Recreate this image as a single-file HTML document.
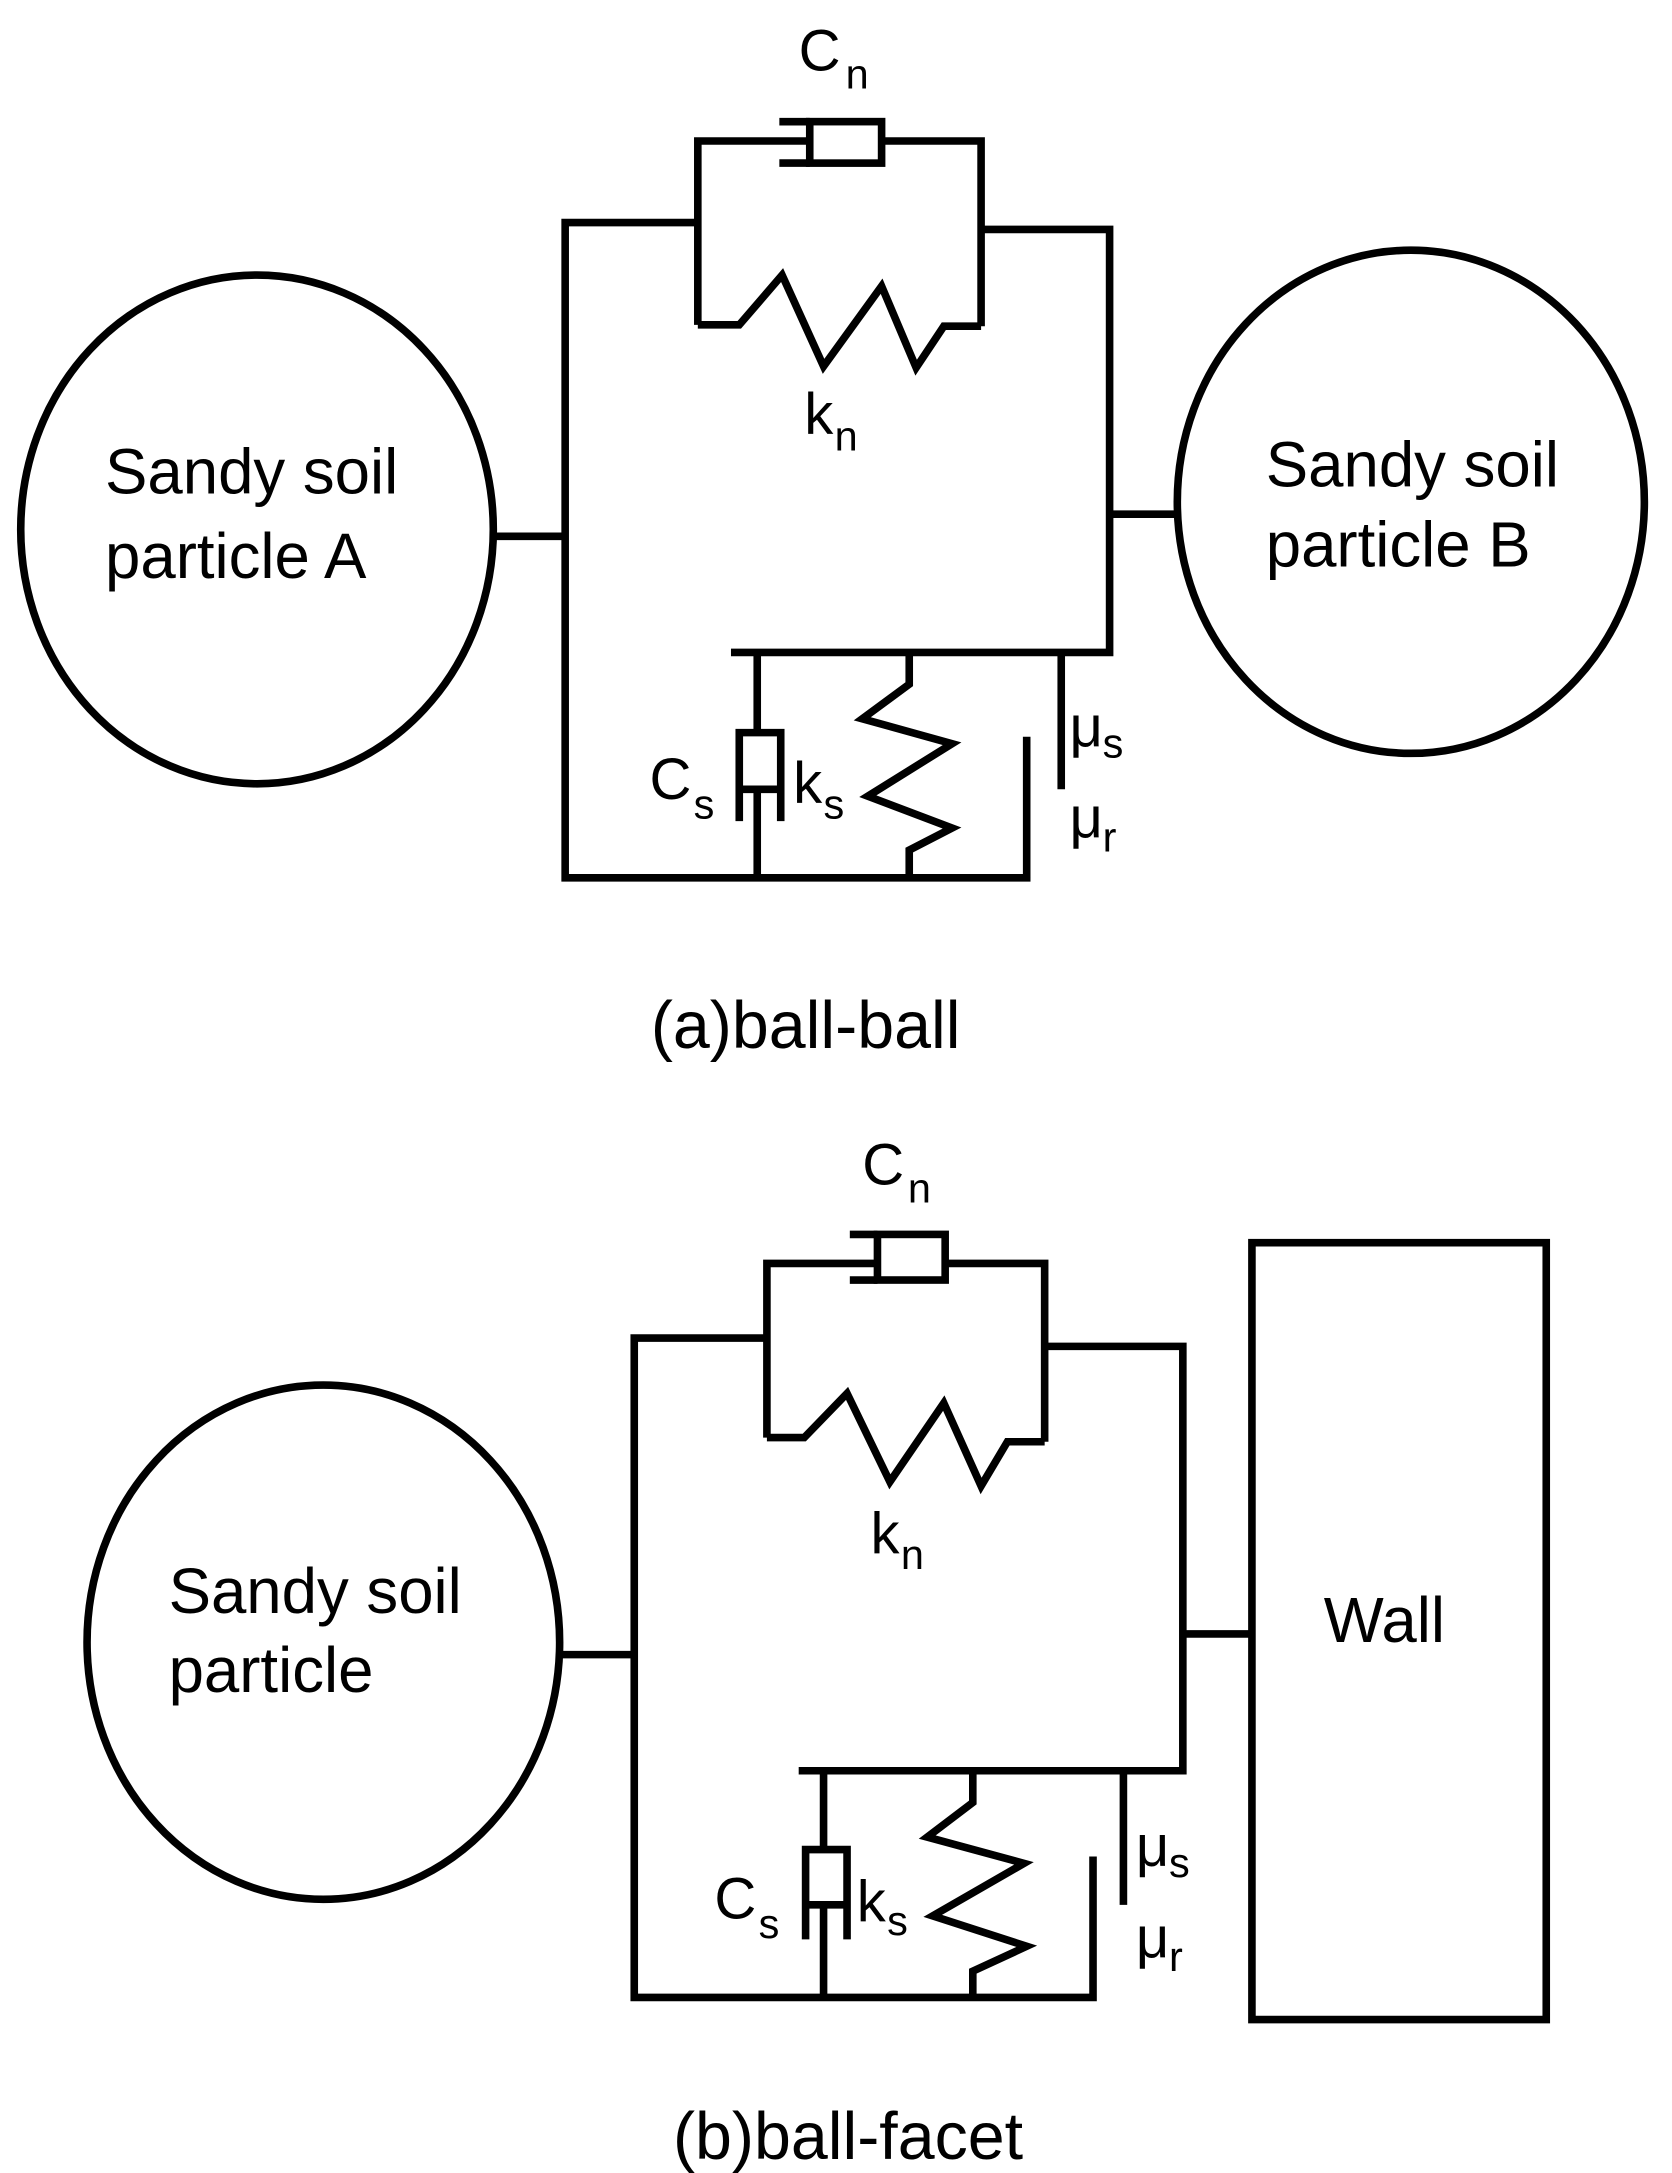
<!DOCTYPE html>
<html><head><meta charset="utf-8"><style>
html,body{margin:0;padding:0;background:#fff;}
svg{display:block;}
text{font-family:"Liberation Sans",Arial,sans-serif;fill:#000;}
</style></head><body>
<svg width="1672" height="2173" viewBox="0 0 1210 1572" preserveAspectRatio="none" xmlns="http://www.w3.org/2000/svg">
<rect width="1210" height="1572" fill="#fff"/>
<g fill="none" stroke="#000" stroke-width="5.5" stroke-linejoin="miter">
<!-- top diagram -->
<ellipse cx="186" cy="383" rx="171" ry="184"/>
<ellipse cx="1021" cy="363" rx="169" ry="182"/>
<line x1="357" y1="388" x2="409" y2="388"/>
<line x1="803" y1="372" x2="852" y2="372"/>
<polyline points="505,161 409,161 409,635 743,635 743,533"/>
<polyline points="505,235 505,102 586,102"/>
<rect x="586" y="88" width="52" height="30"/>
<line x1="564" y1="88" x2="586" y2="88"/>
<line x1="564" y1="118" x2="586" y2="118"/>
<polyline points="638,102 710,102 710,236"/>
<polyline points="505,235 535,235 566,199 596,265 638,207 663,266 683,236 710,236"/>
<polyline points="710,166 803,166 803,472 529,472"/>
<line x1="548" y1="472" x2="548" y2="530"/>
<polyline points="535,594 535,530 565,530 565,594"/>
<line x1="535" y1="571" x2="565" y2="571"/>
<line x1="548" y1="571" x2="548" y2="635"/>
<polyline points="658,472 658,495 624,520 689,538 628,576 689,599 658,615 658,635"/>
<line x1="768" y1="472" x2="768" y2="571"/>
<!-- bottom diagram -->
<ellipse cx="234" cy="1188" rx="171" ry="186"/>
<rect x="906" y="899" width="213" height="562"/>
<line x1="405" y1="1197" x2="459" y2="1197"/>
<line x1="856" y1="1182" x2="906" y2="1182"/>
<polyline points="555,968 459,968 459,1445 791,1445 791,1343"/>
<polyline points="555,1040 555,914 635,914"/>
<rect x="635" y="893" width="49" height="33"/>
<line x1="615" y1="893" x2="635" y2="893"/>
<line x1="615" y1="926" x2="635" y2="926"/>
<polyline points="684,914 756,914 756,1043"/>
<polyline points="555,1040 582,1040 613,1008 644,1072 683,1015 710,1075 729,1043 756,1043"/>
<polyline points="756,974 856,974 856,1281 578,1281"/>
<line x1="596" y1="1281" x2="596" y2="1338"/>
<polyline points="583,1403 583,1338 613,1338 613,1403"/>
<line x1="583" y1="1378" x2="613" y2="1378"/>
<line x1="596" y1="1378" x2="596" y2="1445"/>
<polyline points="704,1281 704,1304 671,1329 741,1348 675,1386 743,1408 704,1426 704,1445"/>
<line x1="813" y1="1281" x2="813" y2="1378"/>
</g>
<!-- top labels -->
<text x="76" y="357" font-size="46">Sandy soil</text>
<text x="76" y="418" font-size="46">particle A</text>
<text x="916" y="352" font-size="46">Sandy soil</text>
<text x="916" y="410" font-size="46">particle B</text>
<text x="578" y="51" font-size="42">C</text><text x="612" y="64" font-size="30">n</text>
<text x="582" y="314" font-size="42">k</text><text x="604" y="326" font-size="30">n</text>
<text x="470" y="578" font-size="42">C</text><text x="502" y="592" font-size="30">s</text>
<text x="574" y="581" font-size="42">k</text><text x="596" y="592" font-size="30">s</text>
<text x="774" y="540" font-size="42">μ</text><text x="798" y="548" font-size="30">s</text>
<text x="774" y="606" font-size="42">μ</text><text x="798" y="616" font-size="30">r</text>
<text x="471" y="758" font-size="48">(a)ball-ball</text>
<!-- bottom labels -->
<text x="122" y="1167" font-size="46">Sandy soil</text>
<text x="122" y="1224" font-size="46">particle</text>
<text x="958" y="1188" font-size="46">Wall</text>
<text x="624" y="857" font-size="42">C</text><text x="657" y="870" font-size="30">n</text>
<text x="630" y="1124" font-size="42">k</text><text x="652" y="1135" font-size="30">n</text>
<text x="517" y="1388" font-size="42">C</text><text x="549" y="1402" font-size="30">s</text>
<text x="620" y="1390" font-size="42">k</text><text x="642" y="1400" font-size="30">s</text>
<text x="822" y="1350" font-size="42">μ</text><text x="846" y="1358" font-size="30">s</text>
<text x="822" y="1416" font-size="42">μ</text><text x="846" y="1426" font-size="30">r</text>
<text x="487" y="1562" font-size="48">(b)ball-facet</text>
</svg>
</body></html>
